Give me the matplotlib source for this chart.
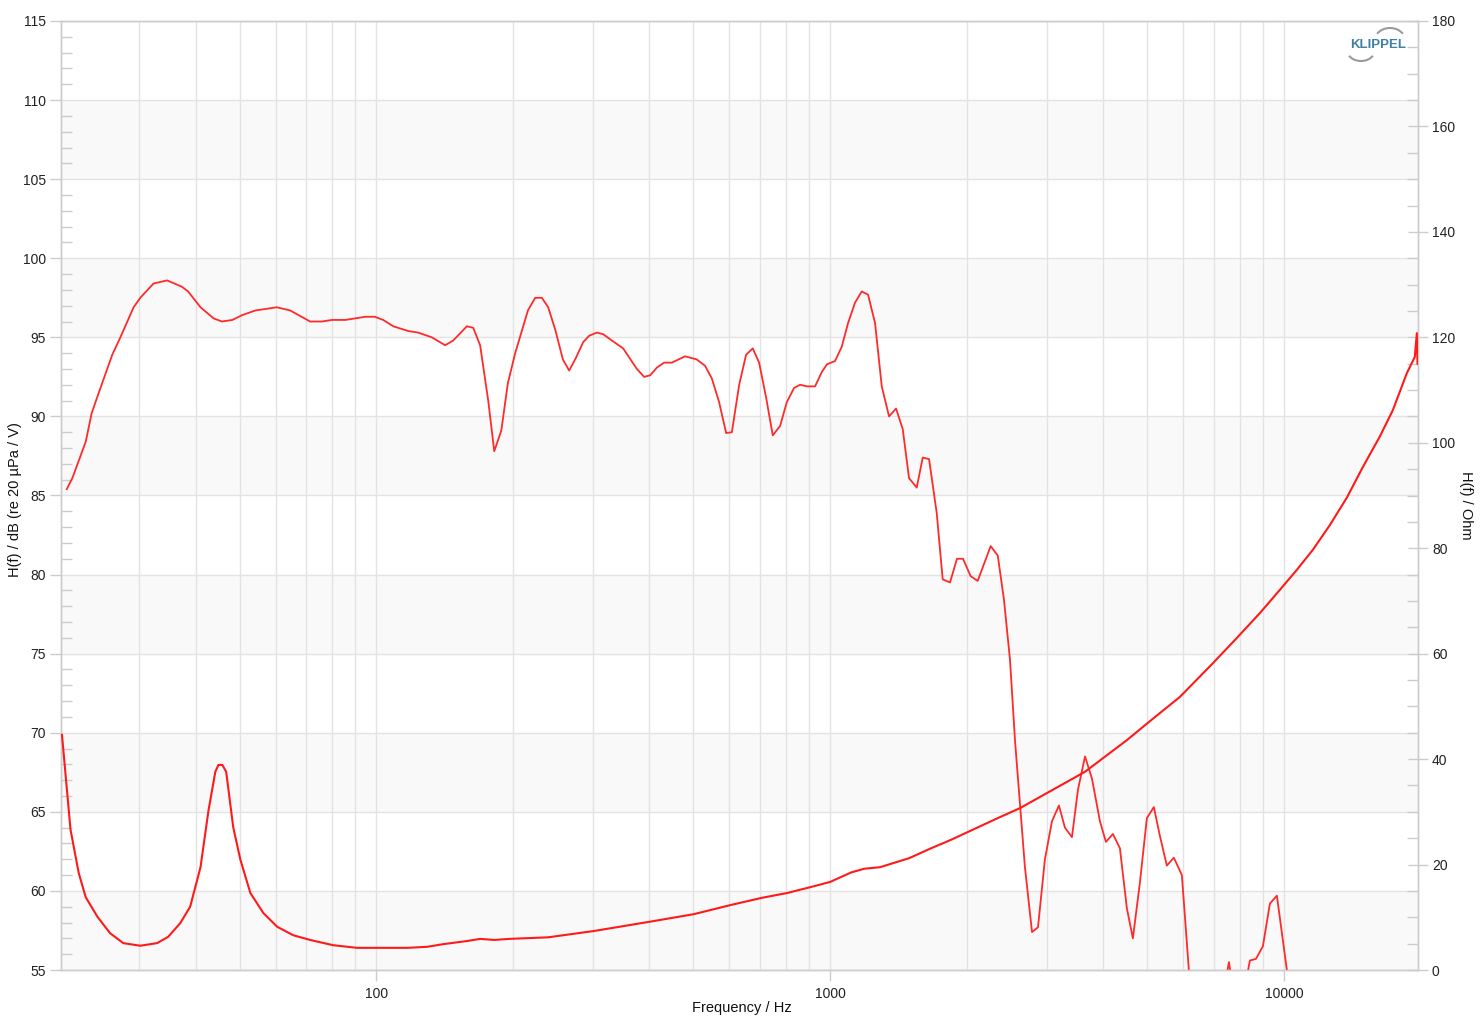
import matplotlib.pyplot as plt
from matplotlib.patches import Arc
from matplotlib.ticker import MultipleLocator, LogLocator, NullFormatter, FixedLocator

plt.rcParams['font.family'] = ['Liberation Sans', 'DejaVu Sans']

# SPL curve (left axis)
freq_spl = [20.8, 21.4, 22.9, 23.6, 24.4, 26.2, 27.3, 29.2, 30.2, 32.3,
            34.6, 37.3, 38.5, 41.0, 43.8, 45.7, 48.2, 50.6, 54.2, 60.4,
            64.6, 71.5, 75.9, 79.9, 85.5, 94.6, 99.3, 103.6, 109.0, 117.6,
            123.7, 132.6, 141.9, 147.8, 158.4, 163.6, 169.4, 176.5, 182.0, 188.6,
            195.0, 202.4, 215.9, 224.0, 231.7, 239.3, 247.9, 257.8, 266.2, 275.4,
            285.8, 294.6, 306.3, 316.2, 330.5, 350.0, 375.3, 389.3, 401.4, 415.9,
            430.8, 448.0, 479.3, 508.6, 530.4, 548.9, 569.6, 590.2, 607.6, 630.6,
            653.1, 675.6, 697.7, 722.9, 747.8, 776.2, 803.0, 833.1, 859.0, 889.9,
            926.8, 958.7, 984.9, 1025.6, 1061, 1095.6, 1135.3, 1174.5, 1212.7, 1256.5,
            1300, 1349, 1397.7, 1445.9, 1492.9, 1552.3, 1600.5, 1652.5, 1718, 1771,
            1838, 1904, 1963, 2041, 2115, 2259, 2342, 2417, 2492, 2556,
            2688, 2786, 2872, 2975, 3083, 3194, 3293, 3412, 3518, 3646,
            3777, 3933, 4054, 4200, 4352, 4509, 4648, 4816, 4990, 5170,
            5329, 5522, 5723, 5960, 6175, 6500, 7100, 7568, 7800, 8100,
            8416, 8678, 8990, 9316, 9652, 9950, 10153, 10600, 20000]
spl_db = [85.4, 86.1, 88.4, 90.2, 91.4, 93.9, 95.0, 96.9, 97.5, 98.4,
          98.6, 98.2, 97.9, 96.9, 96.2, 96.0, 96.1, 96.4, 96.7, 96.9,
          96.7, 96.0, 96.0, 96.1, 96.1, 96.3, 96.3, 96.1, 95.7, 95.4,
          95.3, 95.0, 94.5, 94.8, 95.7, 95.6, 94.5, 91.0, 87.8, 89.1,
          92.1, 94.0, 96.7, 97.5, 97.5, 96.9, 95.5, 93.6, 92.9, 93.7,
          94.7, 95.1, 95.3, 95.2, 94.8, 94.3, 93.0, 92.5, 92.6, 93.1,
          93.4, 93.4, 93.8, 93.6, 93.2, 92.4, 90.9, 88.95, 89.0, 92.0,
          93.9, 94.3, 93.4, 91.2, 88.8, 89.4, 90.9, 91.8, 92.0, 91.9,
          91.9, 92.8, 93.3, 93.5, 94.4, 95.9, 97.2, 97.9, 97.7, 95.9,
          91.9, 90.0, 90.5, 89.2, 86.1, 85.5, 87.4, 87.3, 83.9, 79.7,
          79.5, 81.0, 81.0, 79.9, 79.6, 81.8, 81.2, 78.4, 74.6, 69.5,
          61.5, 57.4, 57.7, 62.0, 64.4, 65.4, 64.0, 63.4, 66.4, 68.5,
          67.1, 64.4, 63.1, 63.6, 62.7, 58.9, 57.0, 60.5, 64.6, 65.3,
          63.5, 61.6, 62.1, 61.0, 55.0, 50.0, 51.0, 55.5, 53.0, 53.0,
          55.6, 55.7, 56.5, 59.2, 59.7, 56.9, 55.0, 50.0, 45.0]

# impedance curve (right axis)
freq_imp = [20.3, 21.2, 22.1, 22.9, 24.3, 25.9, 27.7, 30.2, 32.9, 34.8,
            37.0, 38.9, 41.0, 42.7, 44.2, 44.9, 45.8, 46.7, 48.4, 50.2,
            52.8, 56.4, 60.5, 65.6, 71.5, 80.4, 90.8, 100.5, 117.0, 129.5,
            140.5, 158.6, 169.4, 182.0, 196.3, 239.3, 302.0, 403.4, 501.6, 602.3,
            708.4, 804.2, 912.8, 1000, 1112.6, 1188.4, 1289, 1492.9, 1660.6, 1847.7,
            2368, 2621, 3646, 4509, 5068, 5901, 6978, 7881, 8854, 9799,
            10681, 11584, 12631, 13767, 14929, 16275, 17386, 18662, 19434, 19634,
            19700]
imp_ohm = [44.6, 26.6, 18.4, 13.8, 10.1, 7.0, 5.1, 4.6, 5.1, 6.3,
           8.9, 12.0, 19.5, 30.3, 37.6, 38.9, 38.9, 37.6, 27.1, 20.9,
           14.6, 10.8, 8.2, 6.6, 5.7, 4.7, 4.2, 4.2, 4.2, 4.4,
           4.9, 5.5, 5.9, 5.7, 5.9, 6.2, 7.4, 9.2, 10.6, 12.3,
           13.7, 14.6, 15.8, 16.7, 18.5, 19.2, 19.5, 21.2, 23.0, 24.7,
           29.0, 30.7, 37.6, 43.6, 47.2, 51.8, 58.2, 63.0, 67.7, 72.1,
           75.9, 79.7, 84.4, 89.6, 95.4, 101.2, 106.2, 113.2, 116.3, 120.8,
           115.0]

W, H = 1482, 1024
fig = plt.figure(figsize=(W / 100, H / 100), dpi=100)
ax = fig.add_axes([61 / W, 54 / H, (1418 - 61) / W, 949 / H])

grid_c = '#e3e3e3'
spine_c = '#cccccc'
red = '#ff2a2a'

ax.set_xscale('log')
ax.set_xlim(20.2, 19750)
ax.set_ylim(55, 115)

# alternating bands
for lo in range(55, 115, 10):
    ax.axhspan(lo, lo + 5, color='#f9f9f9', zorder=0, lw=0)

ax.xaxis.set_major_locator(FixedLocator([100, 1000, 10000]))
ax.set_xticklabels(['100', '1000', '10000'])
ax.xaxis.set_minor_locator(LogLocator(base=10, subs=range(2, 10), numticks=20))
ax.xaxis.set_minor_formatter(NullFormatter())
ax.yaxis.set_major_locator(MultipleLocator(5))
ax.yaxis.set_minor_locator(MultipleLocator(1))

ax.grid(axis='x', which='both', color=grid_c, lw=1)
ax.grid(axis='y', which='major', color=grid_c, lw=1)
ax.set_axisbelow(True)

ax.tick_params(axis='y', which='major', direction='out', length=8, width=1,
               color=spine_c, labelsize=10, labelcolor='#222222', pad=3)
ax.tick_params(axis='y', which='minor', direction='in', length=8, width=1, color=spine_c)
ax.tick_params(axis='x', which='major', direction='out', length=8, width=1,
               color=spine_c, labelsize=10, labelcolor='#222222', pad=4)
ax.tick_params(axis='x', which='minor', length=0)

ax.plot(freq_spl, spl_db, color=red, lw=1.3, zorder=3)

ax2 = ax.twinx()
ax2.set_ylim(0, 180)
ax2.yaxis.set_major_locator(MultipleLocator(20))
ax2.yaxis.set_minor_locator(MultipleLocator(5))
ax2.tick_params(axis='y', which='major', direction='inout', length=14, width=1,
                color=spine_c, labelsize=10, labelcolor='#222222', pad=3)
ax2.tick_params(axis='y', which='minor', direction='in', length=8, width=1, color=spine_c)
ax2.plot(freq_imp, imp_ohm, color='#ff1a1a', lw=1.5, zorder=3)

for a in (ax, ax2):
    for s in a.spines.values():
        s.set_color(spine_c)
        s.set_linewidth(1)

fig.text(742 / W, 1 - 1008 / H, 'Frequency / Hz', fontsize=10.5,
         ha='center', va='center', color='#111111')
fig.text(15 / W, 1 - 500 / H, 'H(f) / dB (re 20 µPa / V)', fontsize=10.5,
         rotation=90, ha='center', va='center', color='#111111')
fig.text(1466 / W, 1 - 505 / H, 'H(f) / Ohm', fontsize=10.5,
         rotation=270, ha='center', va='center', color='#111111')

# logo
fig.text(1378 / W, 1 - 45 / H, 'KLIPPEL', fontsize=9.5, fontweight='bold',
         color='#3f80a8', ha='center', va='center')
fig.add_artist(Arc((1390 / W, 1 - 40 / H), 30 / W, 24 / H, theta1=35, theta2=145,
                   color='#9a9a9a', lw=1.5, transform=fig.transFigure))
fig.add_artist(Arc((1361 / W, 1 - 50 / H), 28 / W, 22 / H, theta1=215, theta2=325,
                   color='#9a9a9a', lw=1.5, transform=fig.transFigure))

fig.savefig('out.png', dpi=100, facecolor='white')
